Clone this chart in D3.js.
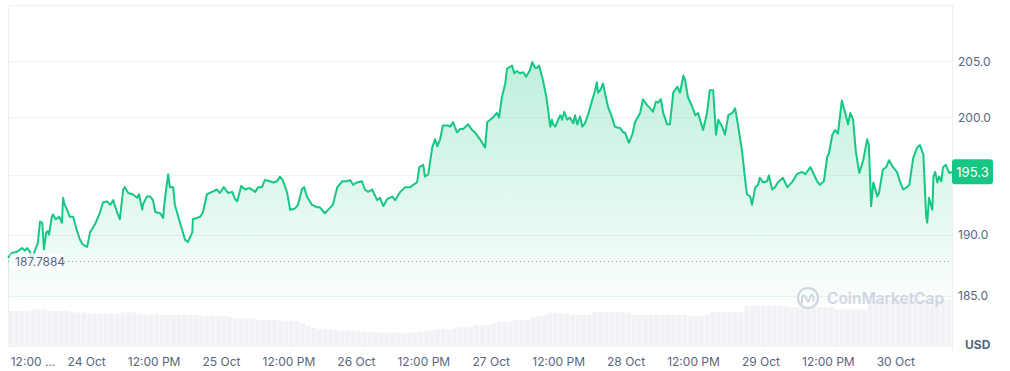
<!DOCTYPE html>
<html lang="en">
<head>
  <meta charset="UTF-8" />
  <title>Price chart</title>
  <style>
    body {
      margin: 0;
      padding: 0;
      background: #fff;
      font-family: Inter, "Noto Sans", Arial, sans-serif;
    }
    svg text {
      font-family: Inter, "Noto Sans", Arial, sans-serif;
    }
  </style>
</head>
<body>
  <svg id="chart" width="1010" height="371"></svg>

  <script src="https://d3js.org/d3.v7.min.js"></script>
  <script>
    // 7 days, starting 23 Oct 10:00
    const startTime = new Date(2024, 9, 23, 10, 0);
    const spanHours = 168;

    // price samples: hours since start / price in USD
    const priceHours = [
      0.0, 0.7, 1.6, 2.5, 3.0, 3.4, 3.9, 4.3, 4.8, 5.3, 5.7, 6.1, 6.4, 6.8, 7.1, 7.3, 7.8, 8.0, 8.5, 9.1,
      9.6, 9.8, 10.1, 10.5, 11.0, 11.6, 12.3, 12.8, 13.3, 14.1, 14.6, 15.5, 16.4, 16.9, 17.6, 18.2, 18.7, 19.4, 19.9, 20.5,
      20.8, 21.4, 22.2, 23.0, 23.3, 23.9, 24.0, 24.7, 25.3, 25.8, 26.2, 27.1, 27.6, 27.9, 28.5, 28.8, 29.4, 29.7, 30.3, 31.0,
      31.5, 32.0, 32.8, 32.9, 33.6, 34.2, 34.7, 35.4, 36.3, 37.2, 37.7, 38.4, 39.2, 39.9, 40.4, 40.8, 41.5, 42.2, 42.7, 43.1,
      44.0, 44.5, 45.2, 45.7, 46.6, 47.2, 47.9, 48.4, 48.9, 49.7, 50.2, 51.1, 51.6, 52.3, 52.7, 53.2, 54.1, 55.0, 55.5, 56.4,
      57.0, 57.8, 58.6, 59.5, 60.3, 60.9, 61.4, 62.1, 63.0, 63.5, 64.1, 64.8, 65.7, 66.2, 66.8, 67.5, 68.4, 68.9, 69.8, 70.7,
      71.6, 72.1, 72.8, 73.2, 73.9, 74.2, 74.8, 75.5, 76.0, 76.4, 76.9, 77.4, 78.3, 78.7, 79.2, 79.9, 80.5, 81.0, 81.9, 82.6,
      83.1, 84.0, 84.9, 85.3, 85.8, 86.3, 87.0, 87.4, 87.9, 88.5, 88.8, 89.7, 90.1, 90.6, 91.1, 91.7, 92.2, 92.9, 93.3, 93.8,
      94.2, 94.5, 95.2, 95.8, 96.1, 96.5, 96.8, 97.0, 97.4, 97.9, 98.3, 98.6, 99.0, 99.5, 100.0, 100.6, 100.9, 101.3, 101.8, 102.2,
      102.7, 103.2, 103.9, 104.5, 104.8, 105.0, 105.4, 105.9, 106.3, 106.8, 107.5, 108.0, 108.6, 108.9, 109.5, 109.8, 110.5, 111.1, 111.6, 112.5,
      113.0, 113.7, 114.3, 114.8, 115.3, 115.7, 116.2, 116.6, 117.3, 117.8, 118.4, 119.1, 119.6, 120.2, 120.5, 121.0, 121.8, 122.3, 122.8, 123.7,
      124.4, 124.9, 125.5, 126.0, 126.4, 127.1, 127.6, 128.2, 128.9, 129.4, 129.9, 130.6, 131.2, 131.5, 132.1, 132.4, 133.0, 133.5, 133.8, 134.4,
      135.1, 135.4, 136.0, 136.5, 137.0, 137.9, 138.7, 139.5, 140.4, 141.3, 141.9, 142.8, 143.3, 144.0, 144.5, 145.2, 145.8, 146.1, 146.7, 147.2,
      147.7, 148.4, 149.0, 149.5, 149.9, 150.4, 150.9, 151.5, 152.2, 152.9, 153.2, 153.6, 154.0, 154.7, 155.0, 155.7, 156.3, 156.8, 157.5, 158.2,
      158.8, 159.3, 160.0, 160.4, 161.1, 161.8, 162.3, 162.9, 163.4, 163.6, 163.9, 164.5, 164.7, 165.0, 165.4, 165.7, 166.1, 166.4, 166.9, 167.5,
      168.0
    ];
    const priceValues = [
      188.1, 188.5, 188.6, 188.9, 188.7, 188.9, 188.6, 188.0, 188.7, 189.3, 191.1, 191.0, 188.8, 190.2, 190.3, 190.0, 191.5, 191.7, 191.3, 191.5,
      191.0, 193.1, 192.5, 192.1, 191.5, 191.5, 190.3, 189.6, 189.2, 189.0, 190.2, 190.9, 191.9, 192.7, 192.8, 192.5, 192.9, 191.9, 191.3, 193.8,
      194.0, 193.5, 193.4, 193.1, 193.4, 192.1, 192.5, 193.2, 193.2, 192.9, 191.9, 191.8, 191.4, 192.9, 195.1, 194.0, 194.0, 192.5, 191.5, 190.4,
      189.6, 189.4, 190.2, 191.3, 191.4, 191.5, 191.9, 193.4, 193.6, 193.8, 193.5, 194.0, 193.5, 193.6, 193.0, 192.8, 194.1, 193.8, 193.9, 193.9,
      193.6, 194.0, 194.0, 194.6, 194.5, 194.4, 194.5, 194.9, 194.6, 193.5, 192.1, 192.2, 192.5, 193.8, 194.0, 193.2, 192.5, 192.3, 192.3, 191.8,
      192.1, 192.5, 194.0, 194.5, 194.5, 194.6, 194.2, 194.4, 194.5, 193.8, 193.6, 193.8, 192.9, 193.1, 192.4, 193.0, 193.2, 192.9, 193.6, 194.0,
      194.0, 194.2, 194.4, 195.7, 195.9, 194.9, 195.1, 197.4, 198.1, 197.5, 198.1, 199.3, 199.3, 199.2, 199.6, 198.7, 199.0, 199.0, 199.4, 198.9,
      198.7, 198.1, 197.4, 199.6, 199.8, 200.0, 200.4, 200.0, 201.8, 203.0, 204.3, 204.6, 203.9, 204.1, 203.9, 204.0, 203.6, 204.2, 204.9, 204.4,
      204.4, 204.6, 203.3, 201.8, 200.7, 199.2, 199.8, 199.4, 199.2, 199.8, 200.2, 199.8, 200.5, 199.8, 200.0, 199.5, 200.2, 199.4, 200.1, 199.2,
      199.5, 200.2, 201.4, 202.4, 203.1, 202.2, 202.4, 203.0, 202.0, 200.9, 200.0, 199.2, 199.1, 199.1, 198.7, 198.7, 197.8, 198.5, 199.6, 200.4,
      201.6, 201.1, 200.8, 200.5, 201.4, 201.3, 201.6, 200.4, 199.4, 199.4, 202.2, 202.7, 202.2, 203.7, 203.3, 201.8, 200.9, 200.2, 200.4, 198.9,
      200.4, 202.4, 202.4, 198.5, 199.8, 199.2, 198.5, 200.2, 200.4, 200.8, 199.4, 197.2, 194.6, 193.4, 193.2, 192.5, 194.0, 194.2, 194.8, 194.4,
      194.5, 195.0, 193.8, 194.0, 194.4, 194.8, 194.0, 194.4, 195.1, 195.3, 195.1, 195.7, 195.2, 194.5, 194.2, 194.5, 196.6, 196.9, 198.5, 198.9,
      198.6, 201.5, 200.4, 199.4, 200.4, 199.8, 197.0, 195.2, 196.3, 198.1, 197.6, 192.4, 194.4, 193.2, 193.5, 195.5, 195.7, 196.3, 195.7, 195.3,
      194.4, 193.8, 194.0, 194.2, 196.5, 197.4, 197.6, 196.8, 191.5, 191.0, 193.1, 192.1, 194.9, 195.3, 194.4, 194.9, 194.5, 195.7, 195.9, 195.2,
      195.3
    ];

    // hourly volume (M USD)
    const volumeValues = [
      2880, 2880, 2880, 2880, 3000, 3000, 3000, 2880, 2880, 2880, 2880, 2760,
      2760, 2760, 2640, 2640, 2640, 2640, 2640, 2640, 2760, 2760, 2760, 2620,
      2620, 2620, 2620, 2560, 2560, 2560, 2560, 2560, 2560, 2560, 2520, 2480,
      2480, 2480, 2480, 2400, 2300, 2300, 2300, 2300, 2160, 2160, 2160, 2160,
      2120, 2060, 2060, 2060, 1920, 1680, 1520, 1420, 1420, 1420, 1360, 1300,
      1300, 1300, 1260, 1200, 1200, 1200, 1140, 1140, 1140, 1140, 1140, 1140,
      1140, 1200, 1260, 1320, 1420, 1420, 1420, 1500, 1580, 1580, 1640, 1760,
      1760, 1760, 1880, 2000, 2000, 2000, 2160, 2160, 2160, 2320, 2480, 2560,
      2700, 2700, 2700, 2700, 2560, 2560, 2560, 2560, 2820, 2820, 2820, 2820,
      2820, 2820, 2740, 2560, 2560, 2560, 2560, 2560, 2560, 2560, 2560, 2560,
      2560, 2480, 2480, 2480, 2600, 2780, 2780, 2780, 2780, 2780, 2780, 3280,
      3280, 3280, 3280, 3280, 3280, 3280, 3280, 3180, 3180, 3180, 3180, 3180,
      3180, 3180, 3180, 3020, 3020, 3020, 3020, 3020, 3020, 3760, 3760, 3760,
      3760, 3760, 3760, 3760, 3760, 3760, 3760, 3760, 3760, 3760, 3760, 3760
    ];

    const yTicks = [185, 190, 195, 200, 205];
    const xTickLabels = ["12:00 ...", "24 Oct", "12:00 PM", "25 Oct", "12:00 PM", "26 Oct", "12:00 PM",
                         "27 Oct", "12:00 PM", "28 Oct", "12:00 PM", "29 Oct", "12:00 PM", "30 Oct"];
    const openPrice = 187.7884;
    const lastPrice = 195.3;

    const green = "#16c784";
    const textColor = "#58667e";
    const gridColor = "#eff2f5";

    const svg = d3.select("#chart");
    const hour = 3600 * 1000;
    const toDate = h => new Date(startTime.getTime() + h * hour);

    const x = d3.scaleTime()
      .domain([startTime, toDate(spanHours)])
      .range([8, 952]);
    const y = d3.scaleLog()
      .domain([184.66, 205])
      .range([300, 61]);
    const yVol = d3.scaleLinear()
      .domain([0, 4000])
      .range([347, 297]);

    const prices = priceHours.map((h, i) => ({ t: toDate(h), v: priceValues[i] }));

    // frame
    svg.append("path")
      .attr("d", `M${x.range()[0] + 0.5},348V5.5H${x.range()[1] + 0.5}V350`)
      .attr("fill", "none")
      .attr("stroke", "#eceef1");

    // grid
    svg.append("g")
      .selectAll("line")
      .data(yTicks)
      .join("line")
      .attr("x1", x.range()[0])
      .attr("x2", x.range()[1])
      .attr("y1", d => Math.round(y(d)) + 0.5)
      .attr("y2", d => Math.round(y(d)) + 0.5)
      .attr("stroke", gridColor);

    // volume bars
    svg.append("g")
      .selectAll("rect")
      .data(volumeValues)
      .join("rect")
      .attr("x", (d, i) => x(toDate(i)))
      .attr("width", (d, i) => x(toDate(i + 1)) - x(toDate(i)) - 0.6)
      .attr("y", d => yVol(d))
      .attr("height", d => yVol(0) - yVol(d))
      .attr("fill", "#f0f2f5");

    // watermark
    const wm = svg.append("g").attr("transform", "translate(808,298)").attr("opacity", 0.9);
    wm.append("circle").attr("r", 10).attr("fill", "none").attr("stroke", "#cdd3df").attr("stroke-width", 2.2);
    wm.append("path")
      .attr("d", "M-6,5V0Q-5,-5 -2.5,-1L-0.5,3Q0.5,5 1.5,1L2.5,-2Q4.5,-5 5.5,0V3")
      .attr("fill", "none")
      .attr("stroke", "#cdd3df")
      .attr("stroke-width", 2)
      .attr("stroke-linecap", "round");
    wm.append("text")
      .attr("x", 19)
      .attr("y", 6)
      .attr("font-size", "15.5px")
      .attr("font-weight", 600)
      .attr("fill", "#cdd3df")
      .text("CoinMarketCap");

    // area gradient
    const defs = svg.append("defs");
    const grad = defs.append("linearGradient")
      .attr("id", "fillGrad")
      .attr("gradientUnits", "userSpaceOnUse")
      .attr("x1", 0).attr("x2", 0)
      .attr("y1", y(205)).attr("y2", y.range()[0]);
    grad.append("stop").attr("offset", "0%").attr("stop-color", green).attr("stop-opacity", 0.28);
    grad.append("stop").attr("offset", "100%").attr("stop-color", green).attr("stop-opacity", 0.02);

    const area = d3.area()
      .x(d => x(d.t))
      .y0(y.range()[0])
      .y1(d => y(d.v));
    const line = d3.line()
      .x(d => x(d.t))
      .y(d => y(d.v));

    svg.append("path")
      .datum(prices)
      .attr("d", area)
      .attr("fill", "url(#fillGrad)");

    svg.append("path")
      .datum(prices)
      .attr("d", line)
      .attr("fill", "none")
      .attr("stroke", green)
      .attr("stroke-width", 2)
      .attr("stroke-linejoin", "round");

    // open price dotted line + label
    svg.append("line")
      .attr("x1", x.range()[0])
      .attr("x2", x.range()[1])
      .attr("y1", y(openPrice))
      .attr("y2", y(openPrice))
      .attr("stroke", "#8a94a6")
      .attr("stroke-width", 1)
      .attr("stroke-dasharray", "1,3");
    svg.append("rect")
      .attr("x", 10).attr("y", y(openPrice) - 8)
      .attr("width", 54).attr("height", 17)
      .attr("rx", 3)
      .attr("fill", "#fff")
      .attr("opacity", 0.8);
    svg.append("text")
      .attr("x", 15)
      .attr("y", y(openPrice) + 4.5)
      .attr("font-size", "12px")
      .attr("fill", textColor)
      .text(openPrice);

    // y axis labels (the one hidden under the price tag is skipped)
    svg.append("g")
      .selectAll("text")
      .data(yTicks.filter(d => Math.abs(y(d) - y(lastPrice)) > 14))
      .join("text")
      .attr("x", 958)
      .attr("y", d => y(d) + 4.5)
      .attr("font-size", "12px")
      .attr("fill", textColor)
      .text(d => d.toFixed(1));

    svg.append("text")
      .attr("x", 965)
      .attr("y", 349)
      .attr("font-size", "12px")
      .attr("font-weight", 700)
      .attr("fill", textColor)
      .text("USD");

    // last price tag
    const tag = svg.append("g").attr("transform", `translate(952,${y(lastPrice)})`);
    tag.append("rect")
      .attr("x", 0).attr("y", -12.5)
      .attr("width", 41).attr("height", 25)
      .attr("rx", 3)
      .attr("fill", green);
    tag.append("text")
      .attr("x", 20.5)
      .attr("y", 5)
      .attr("text-anchor", "middle")
      .attr("font-size", "13px")
      .attr("fill", "#fff")
      .text(lastPrice.toFixed(1));

    // x axis labels
    const xTicks = d3.timeHour.every(12).range(startTime, toDate(spanHours));
    svg.append("g")
      .selectAll("text")
      .data(xTicks)
      .join("text")
      .attr("x", d => Math.max(x(d), 33))
      .attr("y", 366)
      .attr("text-anchor", "middle")
      .attr("font-size", "12px")
      .attr("fill", textColor)
      .text((d, i) => xTickLabels[i]);
  </script>
</body>
</html>
